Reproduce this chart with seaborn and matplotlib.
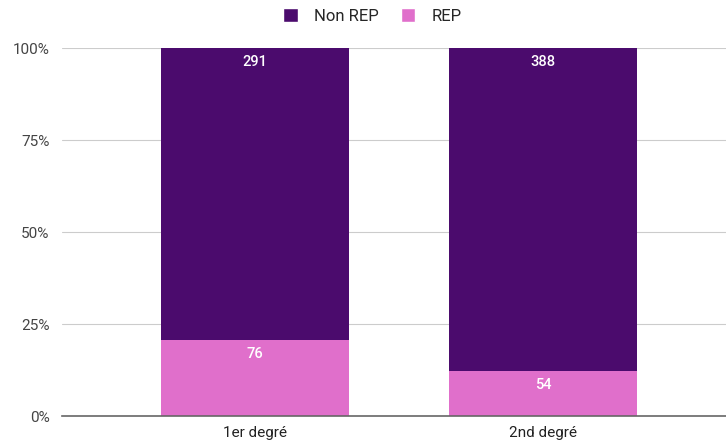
import matplotlib
matplotlib.use("Agg")
import matplotlib.pyplot as plt
import seaborn as sns
import pandas as pd
import numpy as np
from matplotlib.patches import Patch

categories = ["1er degré", "2nd degré"]
rep = [76, 54]
non_rep = [291, 388]
yticks = [0, 25, 50, 75, 100]
ytick_labels = ["0%", "25%", "50%", "75%", "100%"]

sns.set_theme(style="white")
plt.rcParams['font.family'] = ['Roboto', 'DejaVu Sans']

totals = np.array(rep) + np.array(non_rep)
rep_pct = np.array(rep) / totals * 100
df = pd.DataFrame({"cat": categories, "total": [100.0] * len(categories), "rep_pct": rep_pct})

c_non = "#4b0b6d"
c_rep = "#e06fcb"

fig = plt.figure(figsize=(7.26, 4.4), dpi=100)
ax = fig.add_axes([62/726, 24/440, 1 - 62/726, (416-48)/440])

sns.barplot(data=df, x="cat", y="total", color=c_non, width=0.653, ax=ax, saturation=1, linewidth=0)
sns.barplot(data=df, x="cat", y="rep_pct", color=c_rep, width=0.653, ax=ax, saturation=1, linewidth=0)

for i in range(len(categories)):
    ax.text(i, 100 - 3.8, str(non_rep[i]), ha="center", va="center", color="white", fontsize=10.5, fontweight="medium")
    ax.text(i, rep_pct[i] - 3.8, str(rep[i]), ha="center", va="center", color="white", fontsize=10.5, fontweight="medium")

ax.set_ylim(0, 100)
ax.set_xlim(-0.670, 1.635)
ax.set_yticks(yticks)
ax.set_yticklabels(ytick_labels, fontsize=11, color="#444444")
ax.tick_params(axis="x", labelsize=11, colors="#222222", length=0, pad=7)
ax.tick_params(axis="y", length=0, pad=9)
ax.set_xlabel("")
ax.set_ylabel("")
for s in ["top", "right", "left"]:
    ax.spines[s].set_visible(False)
ax.spines["bottom"].set_color("#666666")
ax.spines["bottom"].set_linewidth(1.2)
ax.yaxis.grid(True, color="#cccccc", linewidth=0.8)
ax.set_axisbelow(True)

handles = [Patch(facecolor=c_non, label="Non REP"), Patch(facecolor=c_rep, label="REP")]
fig.legend(handles=handles, loc="upper center", bbox_to_anchor=(0.513, 1.015), ncol=2, frameon=False,
           fontsize=12, handlelength=0.85, handleheight=0.85, columnspacing=1.3, handletextpad=1.0)

fig.savefig("out.png", dpi=100)
